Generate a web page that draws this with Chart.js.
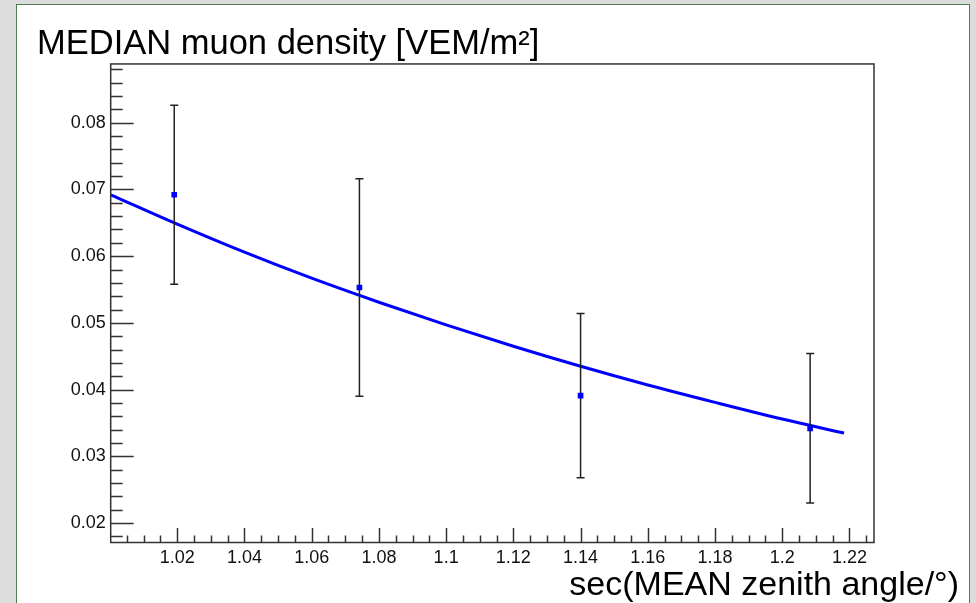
<!DOCTYPE html>
<html>
<head>
<meta charset="utf-8">
<script src="https://cdn.jsdelivr.net/npm/chart.js@4/dist/chart.umd.min.js"></script>
<style>
  html, body { margin: 0; padding: 0; background: #dcdcdc; }
  #frame {
    position: absolute; left: 16px; top: 4px; width: 952px; height: 598px;
    background: #fff; border: 1.5px solid #4f7f4f; border-bottom: none;
  }
  #chart { position: absolute; left: 0; top: 0; }
</style>
</head>
<body>
<div id="frame"></div>
<canvas id="chart" width="976" height="603"></canvas>
<script>
// measured points (sec of mean zenith angle, median muon density) with errors
const secTheta = [1.0191, 1.0742, 1.1400, 1.2083];
const muonDensity = [0.0692, 0.0553, 0.0391, 0.0342];
const muonErr = [0.0134, 0.0163, 0.0123, 0.0112];

// fit curve
const fitX = [1.0002, 1.02, 1.04, 1.06, 1.08, 1.10, 1.12, 1.14, 1.16, 1.18, 1.20, 1.2184];
const fitY = [0.0692, 0.0648, 0.0606, 0.0567, 0.0531, 0.0497, 0.0465, 0.0435, 0.0407, 0.0381, 0.0356, 0.0335];

// axis ticks
const xTicks = [1.02, 1.04, 1.06, 1.08, 1.1, 1.12, 1.14, 1.16, 1.18, 1.2, 1.22];
const xTickLabels = ['1.02', '1.04', '1.06', '1.08', '1.1', '1.12', '1.14', '1.16', '1.18', '1.2', '1.22'];
const yTicks = [0.02, 0.03, 0.04, 0.05, 0.06, 0.07, 0.08];
const yTickLabels = ['0.02', '0.03', '0.04', '0.05', '0.06', '0.07', '0.08'];

const FONT = '"Liberation Sans", Arial, Helvetica, sans-serif';

// error bars, inward ticks, frame and x title (ROOT style)
const rootStyle = {
  id: 'rootStyle',
  afterDatasetDraw(chart, args) {
    if (args.index !== 0) return;
    const { ctx, scales: { x, y } } = chart;
    ctx.save();
    ctx.strokeStyle = '#222';
    ctx.lineWidth = 1.5;
    secTheta.forEach((sx, i) => {
      const px = x.getPixelForValue(sx);
      const top = y.getPixelForValue(muonDensity[i] + muonErr[i]);
      const bot = y.getPixelForValue(muonDensity[i] - muonErr[i]);
      ctx.beginPath();
      ctx.moveTo(px, top); ctx.lineTo(px, bot);
      ctx.moveTo(px - 4, top); ctx.lineTo(px + 4, top);
      ctx.moveTo(px - 4, bot); ctx.lineTo(px + 4, bot);
      ctx.stroke();
    });
    ctx.restore();
  },
  afterDraw(chart) {
    const { ctx, chartArea: a, scales: { x, y } } = chart;
    ctx.save();
    ctx.strokeStyle = '#333';
    ctx.lineWidth = 1.5;
    ctx.beginPath();
    // y ticks every 0.002, majors every 0.01
    for (let k = 9; k <= 44; k++) {
      const py = Math.round(y.getPixelForValue(k * 0.002)) + 0.5;
      if (py < a.top || py > a.bottom) continue;
      const len = k % 5 === 0 ? 23 : 12;
      ctx.moveTo(a.left, py);
      ctx.lineTo(a.left + len, py);
    }
    // x ticks every 0.005, majors every 0.02
    for (let k = 201; k <= 245; k++) {
      const px = Math.round(x.getPixelForValue(k * 0.005)) + 0.5;
      if (px < a.left || px > a.right) continue;
      const len = k % 4 === 0 ? 14.5 : 7;
      ctx.moveTo(px, a.bottom);
      ctx.lineTo(px, a.bottom - len);
    }
    ctx.stroke();
    ctx.strokeRect(a.left, a.top, a.right - a.left, a.bottom - a.top);

    ctx.fillStyle = '#000';
    ctx.font = '34px ' + FONT;
    ctx.textAlign = 'right';
    ctx.textBaseline = 'alphabetic';
    ctx.fillText('sec(MEAN zenith angle/°)', 959, 595);
    ctx.restore();
  }
};

new Chart(document.getElementById('chart'), {
  data: {
    datasets: [
      {
        type: 'line',
        data: fitX.map((v, i) => ({ x: v, y: fitY[i] })),
        borderColor: '#0000ff',
        borderWidth: 3,
        pointRadius: 0,
        cubicInterpolationMode: 'monotone',
        order: 2
      },
      {
        type: 'scatter',
        data: secTheta.map((v, i) => ({ x: v, y: muonDensity[i] })),
        pointStyle: 'rect',
        pointRadius: 4,
        backgroundColor: '#0000ff',
        borderColor: '#0000ff',
        borderWidth: 0,
        order: 1
      }
    ]
  },
  options: {
    responsive: false,
    animation: false,
    layout: { padding: { left: 37, top: 0, right: 102, bottom: 0 } },
    plugins: {
      legend: { display: false },
      tooltip: { enabled: false },
      title: {
        display: true,
        text: 'MEDIAN muon density [VEM/m²]',
        align: 'start',
        color: '#000',
        font: { family: FONT, size: 34.5, weight: 'normal', lineHeight: 1.1 },
        padding: { top: 26, bottom: 0 }
      }
    },
    scales: {
      x: {
        type: 'linear',
        min: 1.0002,
        max: 1.2273,
        afterBuildTicks: s => { s.ticks = xTicks.map(v => ({ value: v })); },
        afterFit: s => { s.height = 60.5; },
        grid: { display: false, drawTicks: false },
        border: { display: false },
        ticks: {
          autoSkip: false,
          maxRotation: 0,
          padding: 5,
          color: '#111',
          font: { family: FONT, size: 18 },
          callback: (v, i) => xTickLabels[i]
        }
      },
      y: {
        type: 'linear',
        min: 0.0171,
        max: 0.0888,
        afterBuildTicks: s => { s.ticks = yTicks.map(v => ({ value: v })); },
        afterFit: s => { s.width = 73.7; },
        grid: { display: false, drawTicks: false },
        border: { display: false },
        ticks: {
          autoSkip: false,
          padding: 5,
          color: '#111',
          font: { family: FONT, size: 18 },
          callback: (v, i) => yTickLabels[i]
        }
      }
    }
  },
  plugins: [rootStyle]
});
</script>
</body>
</html>
